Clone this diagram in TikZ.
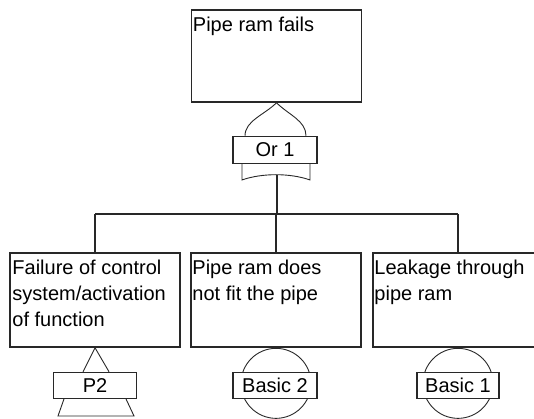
\documentclass[tikz,border=0pt]{standalone}
\usepackage{fontspec}
\setmainfont{Liberation Sans}
\usetikzlibrary{positioning, backgrounds}
\definecolor{mydark}{RGB}{40,40,40}
\tikzset{
  eventbox/.style={rectangle, draw=mydark, fill=white, line width=1.5pt,
    minimum width=170pt, inner sep=0pt},
  eventtext/.style={anchor=north west, inner sep=0pt, align=left,
    font=\fontsize{20}{26}\selectfont},
  gatelabel/.style={rectangle, draw=mydark, fill=white, line width=1.2pt,
    minimum width=84pt, minimum height=26pt, inner sep=0pt,
    font=\fontsize{20}{24}\selectfont},
  gateline/.style={draw=mydark, line width=0.9pt},
  wire/.style={draw=mydark, line width=1.3pt}
}
\begin{document}
\begin{tikzpicture}[x=1pt, y=-1pt]
  \useasboundingbox (0,0) rectangle (534,419);
  \clip (0,0) rectangle (534,419);

  % event boxes
  \node[eventbox, minimum height=92pt] (top) at (276.5,56) {};
  \node[eventbox, minimum height=94pt] (e1) at (95,300) {};
  \node[eventbox, minimum height=94pt] (e2) at (276,300) {};
  \node[eventbox, minimum height=94pt] (e3) at (458,300) {};

  \node[eventtext] (toptxt) at ([xshift=2pt,yshift=-8pt]top.north west) {Pipe ram fails};
  \node[eventtext] (e1txt) at ([xshift=3pt,yshift=-8pt]e1.north west) {Failure of control\\system/activation\\of function};
  \node[eventtext] (e2txt) at ([xshift=2pt,yshift=-8pt]e2.north west) {Pipe ram does\\not fit the pipe};
  \node[eventtext] (e3txt) at ([xshift=2pt,yshift=-8pt]e3.north west) {Leakage through\\pipe ram};

  % gate labels
  \node[gatelabel, minimum height=27pt, below=33pt of top, xshift=-1.5pt] (or1) {Or 1};
  \node[gatelabel, minimum width=83pt, below=24pt of e1] (p2) {P2};
  \node[gatelabel, below=24pt of e2, xshift=-1pt] (b2) {Basic 2};
  \node[gatelabel, minimum width=82pt, below=24pt of e3] (b1) {Basic 1};

  % or gate
  \draw[gateline] ([xshift=-30pt]or1.north) .. controls +(0,-15) and +(-12,12) .. (top.south);
  \draw[gateline] ([xshift=31pt]or1.north) .. controls +(0,-15) and +(12,12) .. (top.south);
  \draw[gateline] ([xshift=-33pt]or1.south) -- ++(0,16)
    .. controls +(20,-7) and +(-20,-7) .. ++(68,0) -- ++(0,-16);
  \coordinate (or1out) at ([xshift=2pt,yshift=-11pt]or1.south);
  \coordinate (bar) at (0,214);

  % transfer gate
  \draw[gateline] ([xshift=-12pt]p2.north) -- (e1.south) -- ([xshift=14pt]p2.north);
  \draw[gateline] ([xshift=-31pt]p2.south) -- ++(-6,17) -- ++(76,0) -- ++(-8,-17);

  % basic events
  \begin{pgfonlayer}{background}
    \draw[gateline] ([xshift=1pt,yshift=2pt]b2.center) circle[radius=35pt];
    \draw[gateline] ([yshift=2pt]b1.center) circle[radius=35pt];
  \end{pgfonlayer}

  % connectors
  \draw[wire] (or1out) -- (or1out |- bar);
  \draw[wire] (e1.north |- bar) -- (e3.north |- bar);
  \foreach \ev in {e1,e2,e3}
    \draw[wire] (\ev.north |- bar) -- (\ev.north);
\end{tikzpicture}
\end{document}
